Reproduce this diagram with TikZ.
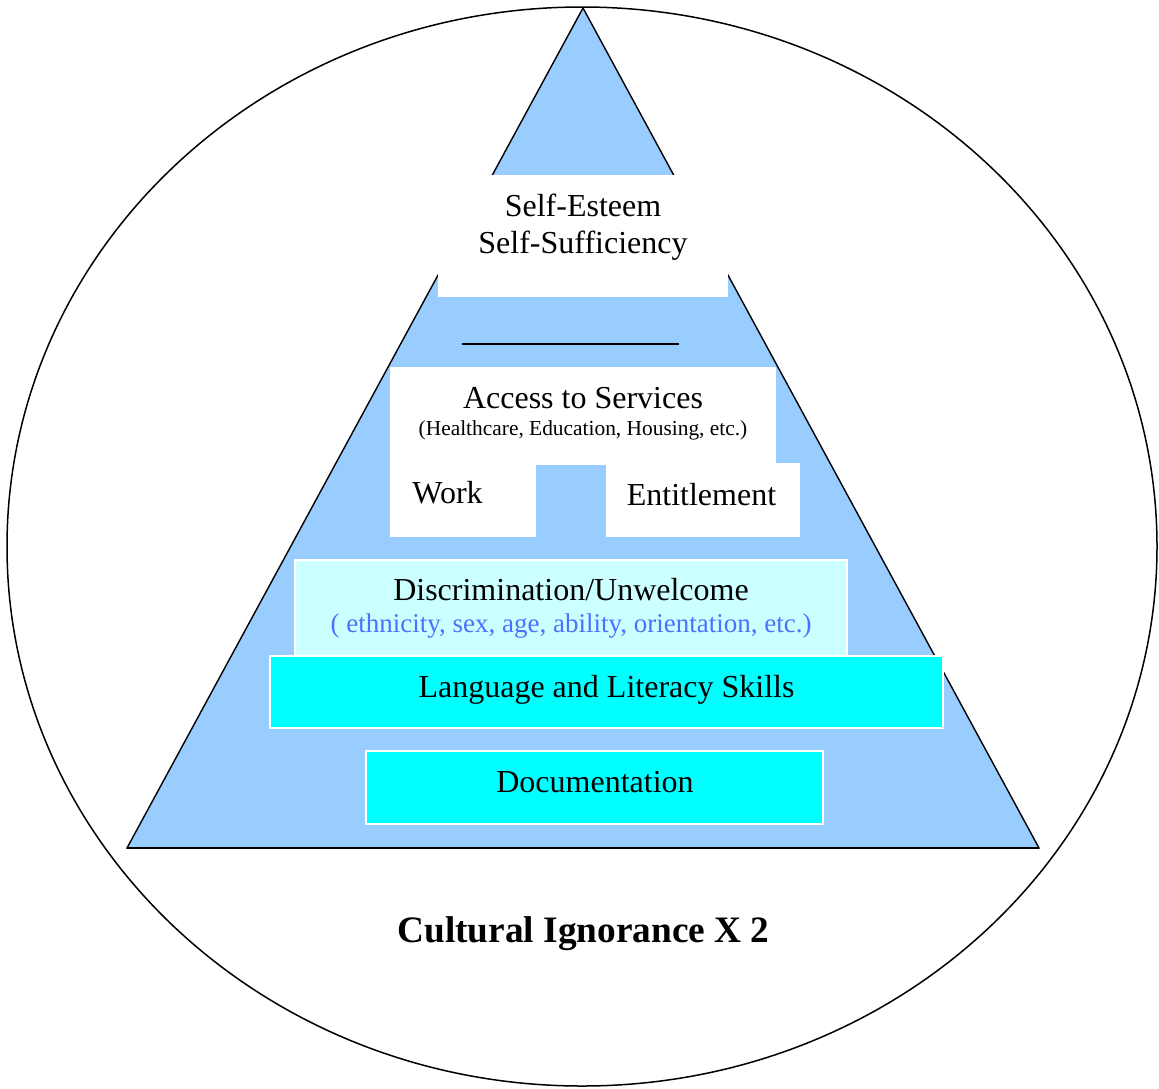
\documentclass[tikz,border=0pt]{standalone}
\usepackage{fontspec}
\setmainfont{Liberation Serif}
\definecolor{pyramid}{RGB}{153,204,255}
\definecolor{palecyan}{RGB}{204,255,255}
\definecolor{brightcyan}{RGB}{0,255,255}
\definecolor{notecolor}{RGB}{77,112,255}
\tikzset{
  outline/.style={draw=black, line width=1.4pt},
  whitebox/.style={fill=white, draw=none, inner sep=0pt},
  tier/.style={draw=white, line width=1.4pt, inner sep=0pt},
  label/.style={inner sep=0pt, anchor=base, font=\fontsize{32}{36}\selectfont},
  note/.style={inner sep=0pt, anchor=base}
}
\begin{document}
\begin{tikzpicture}[x=1pt, y=-1pt]
\useasboundingbox (0,0) rectangle (1159,1088);
\fill[white] (0,0) rectangle (1159,1088);

% outer ellipse
\draw[line width=1.5pt] (582,546.5) ellipse [x radius=575, y radius=539.5];

% pyramid
\coordinate (apex) at (583,8);
\coordinate (baseL) at (127,848);
\coordinate (baseR) at (1039,848);
\filldraw[fill=pyramid, outline, line join=miter] (apex) -- (baseR) -- (baseL) -- cycle;
\draw[line width=2.2pt] (baseL) -- (baseR);

% top tier
\node[whitebox, minimum width=290pt, minimum height=122pt] (top) at (583,236) {};
\node[label] (esteem) at (583,216) {Self-Esteem};
\node[label] (suff) at (583,253) {Self-Sufficiency};

% divider rule
\coordinate (ruleL) at (462,343.5);
\coordinate (ruleR) at (679,343.5);
\draw[line width=2pt] (ruleL) -- (ruleR);

% services tier
\node[whitebox, minimum width=386pt, minimum height=98pt] (access) at (583,416) {};
\node[whitebox, minimum width=146pt, minimum height=74pt] (workbox) at (463,500) {};
\node[whitebox, minimum width=194pt, minimum height=74pt] (entbox) at (703,500) {};
\node[label] (accesstxt) at (583,408) {Access to Services};
\node[note, font=\fontsize{21.4}{24}\selectfont] (accessnote) at (583,435) {(Healthcare, Education, Housing, etc.)};
\node[label] (worktxt) at (447.5,503) {Work};
\node[label] (enttxt) at (701.5,505) {Entitlement};

% discrimination tier
\node[tier, fill=palecyan, minimum width=552pt, minimum height=96pt] (discr) at (571,608) {};
\node[label] (discrtxt) at (571,600) {Discrimination/Unwelcome};
\node[note, text=notecolor, font=\fontsize{27}{30}\selectfont] (discrnote) at (571,632) {( ethnicity, sex, age, ability, orientation, etc.)};

% language tier
\node[tier, fill=brightcyan, minimum width=673pt, minimum height=72pt] (lang) at (606.5,692) {};
\node[label] (langtxt) at (606.5,697) {Language and Literacy Skills};

% documentation tier
\node[tier, fill=brightcyan, minimum width=457pt, minimum height=73pt] (doc) at (594.5,787.5) {};
\node[label] (doctxt) at (595,792) {Documentation};

% caption
\node[note, font=\fontsize{37.3}{42}\selectfont\bfseries] (caption) at (583.5,942) {Cultural Ignorance X 2};
\end{tikzpicture}
\end{document}
